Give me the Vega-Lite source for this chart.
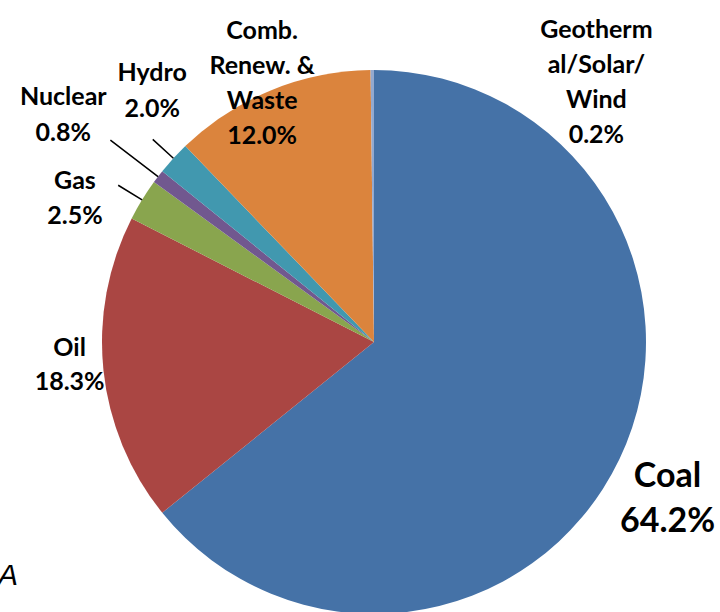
{
  "$schema": "https://vega.github.io/schema/vega-lite/v6.json",
  "width": 692,
  "height": 540,
  "padding": {"left": 28, "top": 72, "right": 0, "bottom": 0},
  "autosize": {"type": "none"},
  "background": "white",
  "config": {"view": {"stroke": null}},
  "title": {
    "text": "Source: EIA",
    "orient": "bottom",
    "anchor": "start",
    "frame": "group",
    "align": "right",
    "baseline": "alphabetic",
    "dx": -10,
    "offset": -29,
    "font": "Liberation Sans",
    "fontSize": 30,
    "fontStyle": "italic",
    "fontWeight": "normal",
    "color": "black"
  },
  "data": {
    "values": [
      {"name": "Coal", "value": 64.2, "label": "Coal\n64.2%", "order": 1},
      {"name": "Oil", "value": 18.3, "label": "Oil\n18.3%", "order": 2},
      {"name": "Gas", "value": 2.5, "label": "Gas\n2.5%", "order": 3},
      {"name": "Nuclear", "value": 0.8, "label": "Nuclear\n0.8%", "order": 4},
      {"name": "Hydro", "value": 2.0, "label": "Hydro\n2.0%", "order": 5},
      {"name": "Comb. Renew. & Waste", "value": 12.0, "label": "Comb.\nRenew. &\nWaste\n12.0%", "order": 6},
      {"name": "Geothermal/Solar/Wind", "value": 0.2, "label": "Geotherm\nal/Solar/\nWind\n0.2%", "order": 7}
    ]
  },
  "transform": [
    {"stack": "value", "groupby": [], "sort": [{"field": "order", "order": "ascending"}], "as": ["start", "end"]},
    {"calculate": "(datum.start + datum.end) / 2", "as": "mid"}
  ],
  "layer": [
    {
      "mark": {"type": "arc"},
      "encoding": {
        "theta": {"field": "start", "type": "quantitative", "scale": {"domain": [0, 100]}},
        "theta2": {"field": "end"},
        "radius": {"value": 272},
        "color": {
          "field": "name",
          "type": "nominal",
          "scale": {
            "domain": ["Coal", "Oil", "Gas", "Nuclear", "Hydro", "Comb. Renew. & Waste", "Geothermal/Solar/Wind"],
            "range": ["#4572A7", "#AA4643", "#89A54E", "#71588F", "#4198AF", "#DB843D", "#93A9CF"]
          },
          "legend": null
        }
      }
    },
    {
      "transform": [{"filter": "datum.name == 'Nuclear'"}],
      "mark": {"type": "arc", "stroke": "black", "strokeWidth": 1.5, "fillOpacity": 0},
      "encoding": {
        "theta": {"field": "mid", "type": "quantitative", "scale": {"domain": [0, 100]}},
        "theta2": {"field": "mid"},
        "radius": {"value": 332},
        "radius2": {"value": 272}
      }
    },
    {
      "transform": [{"filter": "datum.name == 'Gas' || datum.name == 'Hydro'"}],
      "mark": {"type": "arc", "stroke": "black", "strokeWidth": 1.5, "fillOpacity": 0},
      "encoding": {
        "theta": {"field": "mid", "type": "quantitative", "scale": {"domain": [0, 100]}},
        "theta2": {"field": "mid"},
        "radius": {"value": 300},
        "radius2": {"value": 272}
      }
    },
    {
      "transform": [{"filter": "datum.name == 'Coal'"}],
      "mark": {"type": "text", "font": "Lato", "fontWeight": "bold", "fontSize": 34, "lineHeight": 45, "lineBreak": "\n", "align": "center", "baseline": "middle", "dx": -6, "dy": -8, "color": "black"},
      "encoding": {
        "theta": {"field": "mid", "type": "quantitative", "scale": {"domain": [0, 100]}},
        "radius": {"value": 332},
        "text": {"field": "label"}
      }
    },
    {
      "transform": [{"filter": "datum.name == 'Oil'"}],
      "mark": {"type": "text", "font": "Lato", "fontWeight": "bold", "fontSize": 25, "lineHeight": 34, "lineBreak": "\n", "align": "center", "baseline": "middle", "dx": -1, "dy": -25.5, "color": "black"},
      "encoding": {
        "theta": {"field": "mid", "type": "quantitative", "scale": {"domain": [0, 100]}},
        "radius": {"value": 305},
        "text": {"field": "label"}
      }
    },
    {
      "transform": [{"filter": "datum.name == 'Gas'"}],
      "mark": {"type": "text", "font": "Lato", "fontWeight": "bold", "fontSize": 25, "lineHeight": 35, "lineBreak": "\n", "align": "center", "baseline": "middle", "dx": -16, "dy": 12, "color": "black"},
      "encoding": {
        "theta": {"field": "mid", "type": "quantitative", "scale": {"domain": [0, 100]}},
        "radius": {"value": 332},
        "text": {"field": "label"}
      }
    },
    {
      "transform": [{"filter": "datum.name == 'Nuclear'"}],
      "mark": {"type": "text", "font": "Lato", "fontWeight": "bold", "fontSize": 25, "lineHeight": 36, "lineBreak": "\n", "align": "center", "baseline": "middle", "dx": -5, "dy": -10.5, "color": "black"},
      "encoding": {
        "theta": {"field": "mid", "type": "quantitative", "scale": {"domain": [0, 100]}},
        "radius": {"value": 385},
        "text": {"field": "label"}
      }
    },
    {
      "transform": [{"filter": "datum.name == 'Hydro'"}],
      "mark": {"type": "text", "font": "Lato", "fontWeight": "bold", "fontSize": 25, "lineHeight": 36, "lineBreak": "\n", "align": "center", "baseline": "middle", "dx": 26, "dy": -42.5, "color": "black"},
      "encoding": {
        "theta": {"field": "mid", "type": "quantitative", "scale": {"domain": [0, 100]}},
        "radius": {"value": 336},
        "text": {"field": "label"}
      }
    },
    {
      "transform": [{"filter": "datum.name == 'Comb. Renew. & Waste'"}],
      "mark": {"type": "text", "font": "Lato", "fontWeight": "bold", "fontSize": 25, "lineHeight": 35, "lineBreak": "\n", "align": "center", "baseline": "middle", "dx": -4, "dy": -48, "color": "black"},
      "encoding": {
        "theta": {"field": "mid", "type": "quantitative", "scale": {"domain": [0, 100]}},
        "radius": {"value": 284},
        "text": {"field": "label"}
      }
    },
    {
      "transform": [{"filter": "datum.name == 'Geothermal/Solar/Wind'"}],
      "mark": {"type": "text", "font": "Lato", "fontWeight": "bold", "fontSize": 25, "lineHeight": 35, "lineBreak": "\n", "align": "center", "baseline": "middle", "dx": 224, "dy": -52, "color": "black"},
      "encoding": {
        "theta": {"field": "mid", "type": "quantitative", "scale": {"domain": [0, 100]}},
        "radius": {"value": 260},
        "text": {"field": "label"}
      }
    }
  ]
}
